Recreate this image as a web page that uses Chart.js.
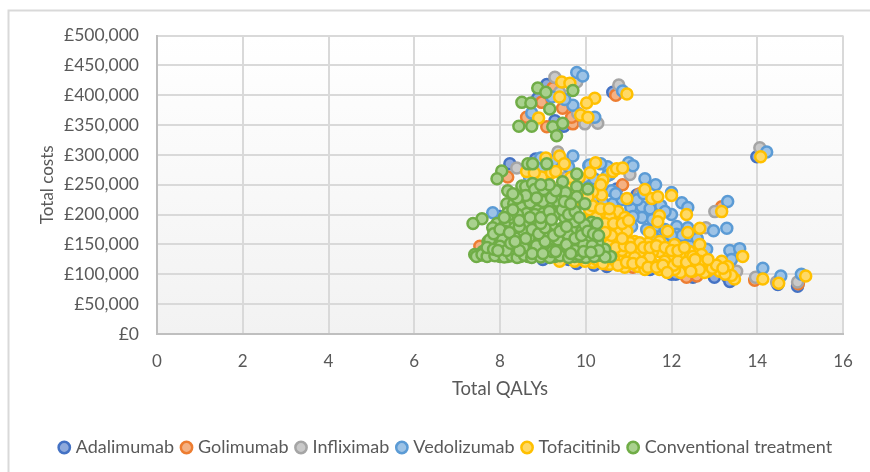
<!DOCTYPE html>
<html>
<head>
<meta charset="utf-8">
<script src="https://cdn.jsdelivr.net/npm/chart.js@4/dist/chart.umd.min.js"></script>
<style>
  html, body { margin: 0; padding: 0; background: #fff; }
  canvas { display: block; }
</style>
</head>
<body>
<canvas id="chart" width="870" height="472"></canvas>
<script>
// [total QALYs, total costs in GBP]
const adalimumab = [[9.09,418000],[8.88,395000],[9.28,357000],[9.49,348000],[10.63,405000],[8.23,285000],[8.83,293000],[10.72,243000],[11.19,233000],[13.99,297000],[14.94,80000],[14.48,83000],[13.31,95000],[12.35,97000],[11.89,105000],[9.0,125000],[9.79,118000],[10.49,113000],[8.0,197000],[11.8,108000],[12.0,100000],[12.38,97000],[13.36,88000],[9.6,125000],[10.2,115000],[11.5,108000],[12.1,100000],[12.5,95000],[13.0,95000]];
const golimumab = [[9.23,412000],[8.97,388000],[9.46,378000],[8.62,363000],[9.09,347000],[9.70,352000],[9.67,363000],[10.70,400000],[8.18,263000],[10.86,250000],[9.32,287000],[11.26,235000],[13.17,213000],[13.94,90000],[7.53,147000],[8.34,228000],[10.49,117000],[11.10,112000],[12.35,95000],[12.59,97000],[13.36,120000],[14.96,84000]];
const infliximab = [[9.28,430000],[9.79,422000],[9.39,405000],[9.81,370000],[9.98,352000],[10.28,353000],[10.77,417000],[9.35,305000],[8.39,278000],[10.02,260000],[11.03,267000],[11.26,233000],[13.01,205000],[12.80,178000],[14.06,312000],[13.52,105000],[13.96,95000],[14.94,87000],[14.45,87000],[9.56,263000]];
const vedolizumab = [[9.79,438000],[9.93,432000],[9.70,383000],[8.74,370000],[10.21,363000],[9.21,397000],[9.51,393000],[10.86,407000],[9.70,298000],[7.83,203000],[10.51,280000],[11.00,287000],[11.10,282000],[11.38,260000],[11.63,250000],[12.00,237000],[12.24,220000],[12.38,212000],[12.00,200000],[11.31,213000],[11.05,212000],[10.63,218000],[11.65,208000],[11.31,195000],[11.07,180000],[11.68,180000],[12.12,180000],[12.12,167000],[12.38,178000],[12.98,173000],[13.29,177000],[13.31,222000],[12.82,142000],[13.36,140000],[13.59,143000],[13.40,125000],[14.13,110000],[14.55,97000],[15.03,100000],[14.22,305000],[11.72,163000],[12.26,153000],[12.49,155000],[11.10,197000],[10.07,282000],[10.40,220000],[11.56,192000],[11.42,175000],[11.96,158000],[12.03,150000],[11.65,158000],[10.09,283000],[10.56,267000],[9.16,233000],[8.93,225000],[10.28,245000],[8.69,262000],[10.09,247000],[10.16,223000],[10.8,198000],[10.6,240000],[10.85,225000],[11.0,225000],[11.2,225000],[11.35,235000],[11.5,210000],[11.75,215000],[11.85,205000],[11.55,165000],[11.85,175000],[12.25,165000],[12.45,165000],[12.6,160000],[12.0,165000],[10.2,260000],[10.35,285000],[10.5,265000],[10.7,235000],[9.85,250000],[9.6,280000],[9.0,280000],[9.25,290000],[8.95,295000]];
const tofacitinib = [[9.44,422000],[9.63,420000],[9.39,397000],[10.21,395000],[10.02,387000],[8.90,362000],[9.88,367000],[10.05,363000],[10.96,402000],[10.23,287000],[9.07,295000],[9.39,298000],[8.62,272000],[10.63,272000],[10.72,277000],[10.86,278000],[10.40,258000],[9.09,263000],[8.97,263000],[11.38,242000],[11.54,227000],[11.68,230000],[12.00,232000],[10.96,227000],[10.37,233000],[10.16,238000],[12.35,200000],[11.72,198000],[11.68,188000],[11.91,172000],[12.38,170000],[12.66,177000],[11.49,170000],[10.75,205000],[10.40,200000],[10.56,197000],[10.91,195000],[10.96,172000],[10.72,170000],[10.49,162000],[11.14,155000],[11.45,152000],[12.66,150000],[12.70,133000],[12.42,138000],[12.31,128000],[11.93,135000],[11.72,138000],[11.56,138000],[11.26,137000],[11.03,137000],[10.84,140000],[13.17,122000],[13.66,130000],[13.31,113000],[13.47,92000],[13.40,98000],[13.12,105000],[12.84,105000],[12.59,113000],[12.26,115000],[11.96,110000],[11.56,118000],[11.21,113000],[10.79,122000],[10.44,130000],[10.16,120000],[9.98,122000],[12.21,103000],[12.77,103000],[14.13,92000],[14.50,85000],[15.13,97000],[14.08,297000],[13.17,205000],[9.86,237000],[9.70,213000],[9.91,192000],[9.70,180000],[10.26,170000],[10.33,153000],[10.02,142000],[10.63,137000],[8.62,228000],[8.76,213000],[9.74,233000],[9.16,217000],[8.93,217000],[10.33,122000],[10.56,117000],[10.91,112000],[11.38,108000],[11.72,108000],[12.07,108000],[12.42,112000],[11.03,153000],[11.26,153000],[11.72,155000],[12.07,150000],[12.19,133000],[10.68,158000],[10.33,175000],[10.09,188000],[10.56,178000],[11.14,128000],[11.49,128000],[12.00,122000],[12.66,122000],[12.89,117000],[11.84,122000],[10.44,145000],[10.09,145000],[9.74,122000],[9.39,122000],[9.86,158000],[10.09,208000],[9.9,128000],[10.1,128000],[10.25,125000],[10.4,118000],[10.65,125000],[10.75,115000],[10.95,120000],[11.1,118000],[11.3,120000],[11.45,112000],[11.65,112000],[11.8,115000],[12.05,115000],[12.15,122000],[12.35,120000],[12.5,105000],[12.65,108000],[12.95,110000],[13.05,115000],[13.25,100000],[13.2,110000],[12.45,105000],[11.9,103000],[10.0,135000],[10.2,140000],[10.35,135000],[10.55,150000],[10.7,145000],[10.9,148000],[11.05,145000],[11.35,145000],[11.5,145000],[11.65,148000],[11.85,145000],[12.0,140000],[12.15,140000],[12.3,145000],[12.5,130000],[12.55,125000],[12.85,125000],[10.1,165000],[10.3,165000],[10.45,185000],[10.6,165000],[10.85,160000],[10.25,195000],[10.15,215000],[10.35,210000],[10.55,210000],[10.65,185000],[10.85,185000],[11.0,190000],[10.45,170000],[9.6,225000],[9.75,243000],[9.9,225000],[10.05,230000],[9.55,245000],[9.45,225000],[9.35,215000],[9.15,250000],[8.8,225000],[8.95,245000],[8.75,200000],[9.2,270000],[8.8,270000],[9.5,285000],[9.3,272000],[9.65,262000],[9.85,262000],[10.1,270000],[10.35,250000]];
const conventional = [[8.51,388000],[8.72,387000],[8.88,412000],[9.07,405000],[9.70,408000],[9.16,377000],[8.44,348000],[8.74,348000],[9.23,347000],[9.46,353000],[9.32,332000],[8.04,273000],[7.93,260000],[8.65,285000],[8.76,285000],[9.09,285000],[8.18,240000],[8.51,248000],[8.60,247000],[8.76,252000],[8.81,242000],[9.02,242000],[9.46,255000],[9.79,268000],[9.37,240000],[9.53,237000],[9.79,247000],[10.05,243000],[9.79,230000],[9.98,218000],[9.35,222000],[9.11,215000],[9.63,210000],[9.39,205000],[8.16,218000],[8.32,218000],[8.51,212000],[8.62,202000],[8.86,207000],[9.00,202000],[8.18,203000],[7.58,193000],[7.37,185000],[7.93,185000],[8.23,193000],[8.30,183000],[8.93,178000],[8.53,172000],[9.46,178000],[9.91,175000],[10.14,187000],[10.26,185000],[9.21,180000],[9.70,172000],[7.93,163000],[7.72,155000],[8.18,163000],[8.53,172000],[8.81,152000],[9.14,148000],[9.44,160000],[9.70,172000],[9.91,172000],[10.00,157000],[8.04,140000],[8.34,145000],[9.51,138000],[7.41,133000],[7.53,132000],[7.65,132000],[7.81,133000],[8.00,130000],[8.18,130000],[8.48,130000],[8.65,130000],[8.83,132000],[9.07,135000],[9.28,130000],[9.74,130000],[9.88,130000],[10.09,133000],[10.33,132000],[10.58,130000],[7.76,142000],[7.60,138000],[7.93,150000],[8.11,150000],[8.34,162000],[8.46,150000],[8.69,162000],[8.69,142000],[8.93,158000],[8.97,142000],[9.16,167000],[9.28,150000],[9.39,142000],[9.63,150000],[9.58,167000],[9.86,145000],[10.09,158000],[10.21,142000],[10.44,142000],[10.28,153000],[8.11,183000],[8.41,200000],[8.65,188000],[8.81,200000],[9.05,188000],[9.28,200000],[9.51,195000],[9.74,188000],[9.98,183000],[8.11,172000],[8.34,178000],[9.16,142000],[9.51,133000],[8.42,137000],[8.06,158000],[8.0,147000],[7.76,158000],[7.83,178000],[7.45,130000],[7.58,133000],[7.7,130000],[7.88,131000],[8.1,129000],[8.27,131000],[8.4,128000],[8.57,132000],[8.74,128000],[8.95,129000],[9.16,128000],[9.4,131000],[9.6,128000],[10.0,128000],[10.2,130000],[10.45,129000],[9.85,133000],[7.7,145000],[7.85,142000],[8.15,140000],[8.25,152000],[8.55,145000],[8.85,148000],[9.05,155000],[9.22,138000],[9.35,158000],[9.55,150000],[9.75,140000],[9.95,150000],[10.15,148000],[10.3,140000],[7.95,140000],[8.45,140000],[8.75,135000],[9.0,135000],[9.3,138000],[9.65,135000],[9.95,138000],[10.12,137000],[7.85,168000],[8.0,175000],[8.22,170000],[8.45,180000],[8.6,160000],[8.75,175000],[8.9,168000],[9.05,178000],[9.25,165000],[9.4,172000],[9.55,180000],[9.75,160000],[9.9,165000],[10.05,172000],[10.18,168000],[10.3,165000],[8.35,155000],[8.95,185000],[8.1,195000],[8.3,208000],[8.45,190000],[8.7,195000],[8.95,195000],[9.15,205000],[9.2,192000],[9.45,208000],[9.6,200000],[9.75,205000],[9.85,195000],[9.0,222000],[8.7,220000],[8.85,228000],[9.2,228000],[9.5,222000],[9.65,218000],[9.3,240000],[9.15,250000],[8.95,250000],[8.6,232000],[8.4,228000],[8.3,235000]];

const seriesNames = ['Adalimumab', 'Golimumab', 'Infliximab', 'Vedolizumab', 'Tofacitinib', 'Conventional treatment'];
const seriesData = [adalimumab, golimumab, infliximab, vedolizumab, tofacitinib, conventional];
const strokeColours = ['#4472C4', '#ED7D31', '#A5A5A5', '#5B9BD5', '#FFC000', '#70AD47'];
const fillColours = ['#8FAADC', '#F4B183', '#C9C9C9', '#9DC3E6', '#FFD966', '#A9D18E'];
const yTicks = [0, 50000, 100000, 150000, 200000, 250000, 300000, 350000, 400000, 450000, 500000];

const textColour = '#595959';
const fontName = 'Lato';

// plot background gradient and the frame lines of the picture
const backdrop = {
    id: 'backdrop',
    afterLayout(chart) {
        // legend sits a little right of the centre chart.js gives it
        chart.legend.left += 7;
        chart.legend.right += 7;
    },
    beforeDraw(chart) {
        const { ctx, chartArea: a } = chart;
        const grad = ctx.createLinearGradient(0, a.top, 0, a.bottom);
        grad.addColorStop(0, '#ffffff');
        grad.addColorStop(1, '#f2f2f2');
        ctx.save();
        ctx.fillStyle = grad;
        ctx.fillRect(a.left, a.top, a.right - a.left, a.bottom - a.top);
        ctx.strokeStyle = '#d9d9d9';
        ctx.lineWidth = 2;
        ctx.beginPath();
        ctx.moveTo(8.5, chart.height);
        ctx.lineTo(8.5, 10.5);
        ctx.lineTo(chart.width, 10.5);
        ctx.stroke();
        ctx.restore();
    }
};

new Chart(document.getElementById('chart'), {
    type: 'scatter',
    data: {
        datasets: seriesNames.map((name, i) => ({
            label: name,
            data: seriesData[i].map(p => ({ x: p[0], y: p[1] })),
            borderColor: strokeColours[i],
            backgroundColor: fillColours[i],
            borderWidth: 2.5,
            pointRadius: 5.5,
            order: seriesNames.length - i
        }))
    },
    options: {
        responsive: false,
        animation: false,
        layout: { padding: { top: 35.5, right: 27, left: 37, bottom: 5.5 } },
        scales: {
            x: {
                min: 0,
                max: 16,
                ticks: { stepSize: 2, color: textColour, font: { family: fontName, size: 17 }, padding: 17, maxRotation: 0 },
                grid: { color: '#d9d9d9', lineWidth: 2, drawTicks: false },
                border: { color: '#bfbfbf', width: 2 },
                title: { display: true, text: 'Total QALYs', color: textColour, font: { family: fontName, size: 18.5 }, padding: { top: 8, bottom: 28.5 } },
                afterFit(scale) { scale.height = 94.5; }
            },
            y: {
                min: 0,
                max: 500000,
                afterBuildTicks(scale) { scale.ticks = yTicks.map(v => ({ value: v })); },
                ticks: {
                    color: textColour,
                    font: { family: fontName, size: 17.5 },
                    padding: 18,
                    callback: v => '£' + v.toLocaleString('en-GB')
                },
                grid: { color: '#d9d9d9', lineWidth: 2, drawTicks: false },
                border: { color: '#bfbfbf', width: 2 },
                title: { display: true, text: 'Total costs', color: textColour, font: { family: fontName, size: 17 }, padding: { top: 0, bottom: 0 } },
                afterFit(scale) { scale.width = 120; }
            }
        },
        plugins: {
            tooltip: { enabled: false },
            legend: {
                position: 'bottom',
                labels: {
                    usePointStyle: true,
                    boxWidth: 5,
                    boxHeight: 8,
                    padding: 10,
                    color: textColour,
                    font: { family: fontName, size: 18 },
                    sort: (a, b) => a.datasetIndex - b.datasetIndex
                }
            }
        }
    },
    plugins: [backdrop]
});
</script>
</body>
</html>
